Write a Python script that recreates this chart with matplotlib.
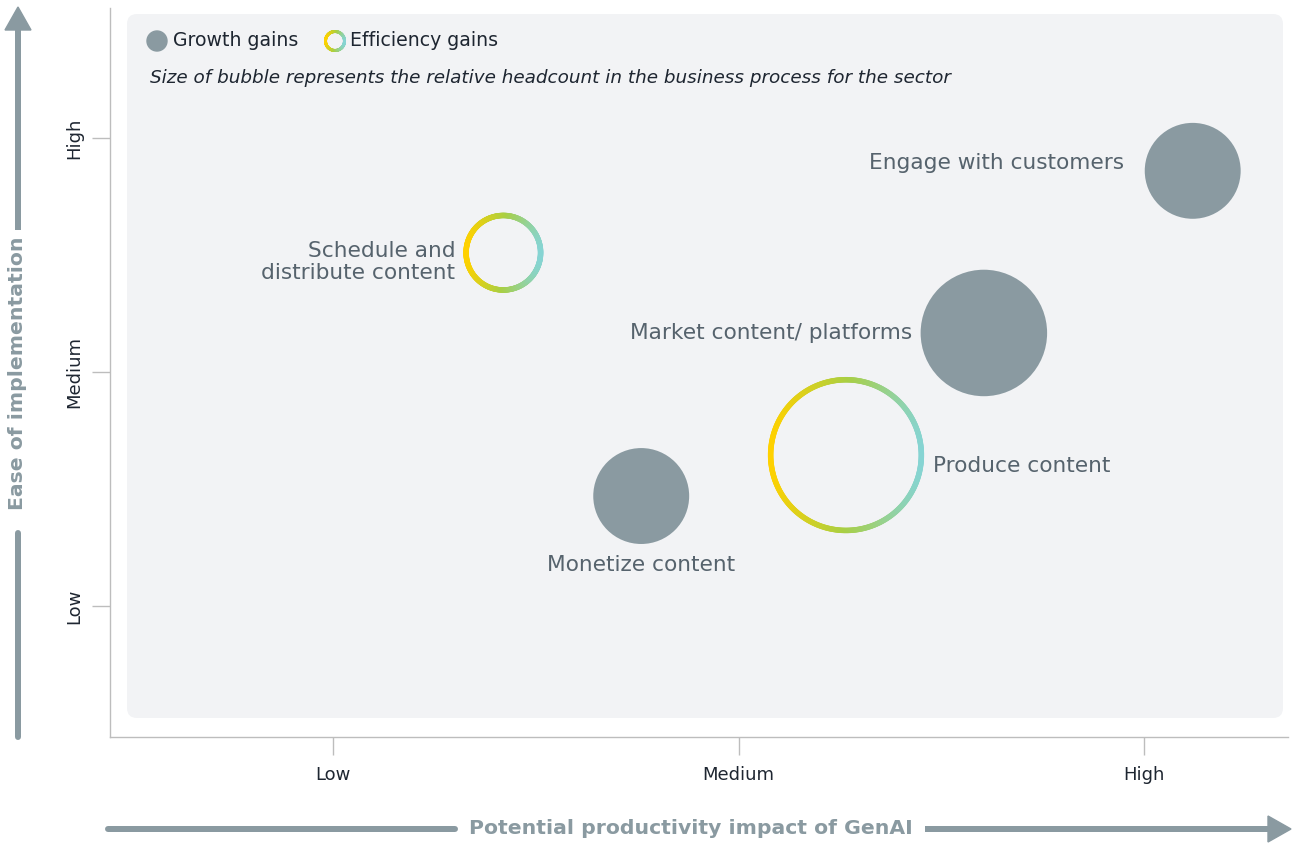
import numpy as np
import matplotlib
matplotlib.use("Agg")
import matplotlib.pyplot as plt
from matplotlib.collections import LineCollection
from matplotlib.colors import LinearSegmentedColormap
from matplotlib.patches import FancyBboxPatch, Circle, Polygon
from matplotlib.lines import Line2D

# Data
processes = ["Engage with customers", "Market content/ platforms", "Produce content",
             "Monetize content", "Schedule and\ndistribute content"]
impact = [3.12, 2.605, 2.265, 1.76, 1.42]        # x: potential productivity impact
ease = [2.86, 2.167, 1.645, 1.47, 2.51]          # y: ease of implementation
headcount = [23, 40, 61, 23, 16]                 # relative headcount (bubble area)
gain_type = ["growth", "growth", "efficiency", "growth", "efficiency"]
levels = ["Low", "Medium", "High"]

W, H, DPI = 1296, 843, 100
GREY = "#8A9AA1"
LABEL = "#56636D"
DARK = "#1E2631"
PANEL = "#F2F3F5"
ring_cmap = LinearSegmentedColormap.from_list("ring", ["#FFD100", "#A9CF45", "#86D4D3"])

fig = plt.figure(figsize=(W / DPI, H / DPI), dpi=DPI)
ax = fig.add_axes([110 / W, (H - 737) / H, (1288 - 110) / W, (737 - 8) / H])
ax.set_xlim(0.450, 3.355)
ax.set_ylim(0.440, 3.556)
ax.set_facecolor("white")

for side in ["top", "right"]:
    ax.spines[side].set_visible(False)
for side in ["left", "bottom"]:
    ax.spines[side].set_color("#BDBDBD")
    ax.spines[side].set_linewidth(1)

ax.set_xticks([1, 2, 3])
ax.set_xticklabels(levels)
ax.set_yticks([1, 2, 3])
ax.set_yticklabels(levels, rotation=90, va="center")
ax.tick_params(axis="both", length=13, color="#BDBDBD", width=1, labelsize=13,
               labelcolor=DARK, pad=8)
ax.tick_params(axis="y", pad=6)

def px(x, y):
    # figure pixel (top-down) -> inches
    return x / DPI, (H - y) / DPI

T = fig.dpi_scale_trans

# background panel
panel = FancyBboxPatch(px(127, 718), 1156 / DPI, 704 / DPI,
                       boxstyle="round,pad=0,rounding_size=0.1",
                       transform=T, facecolor=PANEL, edgecolor="none", zorder=0)
ax.add_patch(panel)


def ring(cx, cy, r, lw, zorder=3):
    # gradient ring centred at inches (cx, cy), radius in pixels
    th = np.linspace(0, 2 * np.pi, 361)
    xs = cx + (r - lw / 2) * np.cos(th) / DPI
    ys = cy + (r - lw / 2) * np.sin(th) / DPI
    pts = np.column_stack([xs, ys])
    segs = np.stack([pts[:-1], pts[1:]], axis=1)
    t = (1 + np.cos((th[:-1] + th[1:]) / 2)) / 2
    lc = LineCollection(segs, colors=ring_cmap(t), linewidths=lw * 0.72,
                        transform=T, zorder=zorder, capstyle="round")
    fig.add_artist(lc) if zorder > 5 else ax.add_collection(lc)


radius = [10 * np.sqrt(h) for h in headcount]
fig.canvas.draw()
for xi, yi, r, g in zip(impact, ease, radius, gain_type):
    if g == "growth":
        ax.scatter([xi], [yi], s=(2 * r * 0.72) ** 2, color=GREY, edgecolors="none", zorder=3)
    else:
        dx, dy = ax.transData.transform((xi, yi))
        ring(dx / DPI, dy / DPI, r, 5.5)

# bubble labels: (offset x px, offset y px, ha)
label_pos = [(-69, 8, "right", "center"), (-72, 0, "right", "center"),
             (87, -11, "left", "center"), (0, -69, "center", "center"),
             (-48, -9, "right", "center")]
for name, xi, yi, (ox, oy, ha, va) in zip(processes, impact, ease, label_pos):
    ax.annotate(name, (xi, yi), xytext=(ox * 0.72, oy * 0.72), textcoords="offset points",
                ha=ha, va=va, fontsize=15.6, color=LABEL, linespacing=1.15, zorder=4)

# legend
fig.add_artist(Circle(px(157, 41), 10 / DPI, transform=T, color=GREY, zorder=6))
fig.text(173 / W, (H - 41) / H, "Growth gains", fontsize=13.6, color=DARK, va="center")
ring(*px(335, 41), 11, 3, zorder=6)
fig.text(350 / W, (H - 41) / H, "Efficiency gains", fontsize=13.6, color=DARK, va="center")
fig.text(150 / W, (H - 78) / H,
         "Size of bubble represents the relative headcount in the business process for the sector",
         fontsize=13.2, style="italic", color=DARK, va="center")

# axis arrows
AW = 6 * 0.72
fig.add_artist(Line2D([108 / DPI, 455 / DPI], [(H - 829) / DPI] * 2, transform=T,
                      color=GREY, lw=AW, solid_capstyle="round"))
fig.add_artist(Line2D([925 / DPI, 1272 / DPI], [(H - 829) / DPI] * 2, transform=T,
                      color=GREY, lw=AW, solid_capstyle="butt"))
fig.add_artist(Polygon([px(1268, 816), px(1291, 829), px(1268, 842)], closed=True,
                       transform=T, color=GREY))
fig.text(691 / W, (H - 829) / H, "Potential productivity impact of GenAI", fontsize=14.7,
         weight="bold", color=GREY, ha="center", va="center")

fig.add_artist(Line2D([18 / DPI] * 2, [(H - 737) / DPI, (H - 533) / DPI], transform=T,
                      color=GREY, lw=AW, solid_capstyle="round"))
fig.add_artist(Line2D([18 / DPI] * 2, [(H - 230) / DPI, (H - 28) / DPI], transform=T,
                      color=GREY, lw=AW, solid_capstyle="butt"))
fig.add_artist(Polygon([px(5, 30), px(18, 7), px(31, 30)], closed=True,
                       transform=T, color=GREY))
fig.text(18 / W, (H - 373) / H, "Ease of implementation", fontsize=14.7, weight="bold",
         color=GREY, ha="center", va="center", rotation=90)

fig.savefig("out.png", dpi=DPI)
